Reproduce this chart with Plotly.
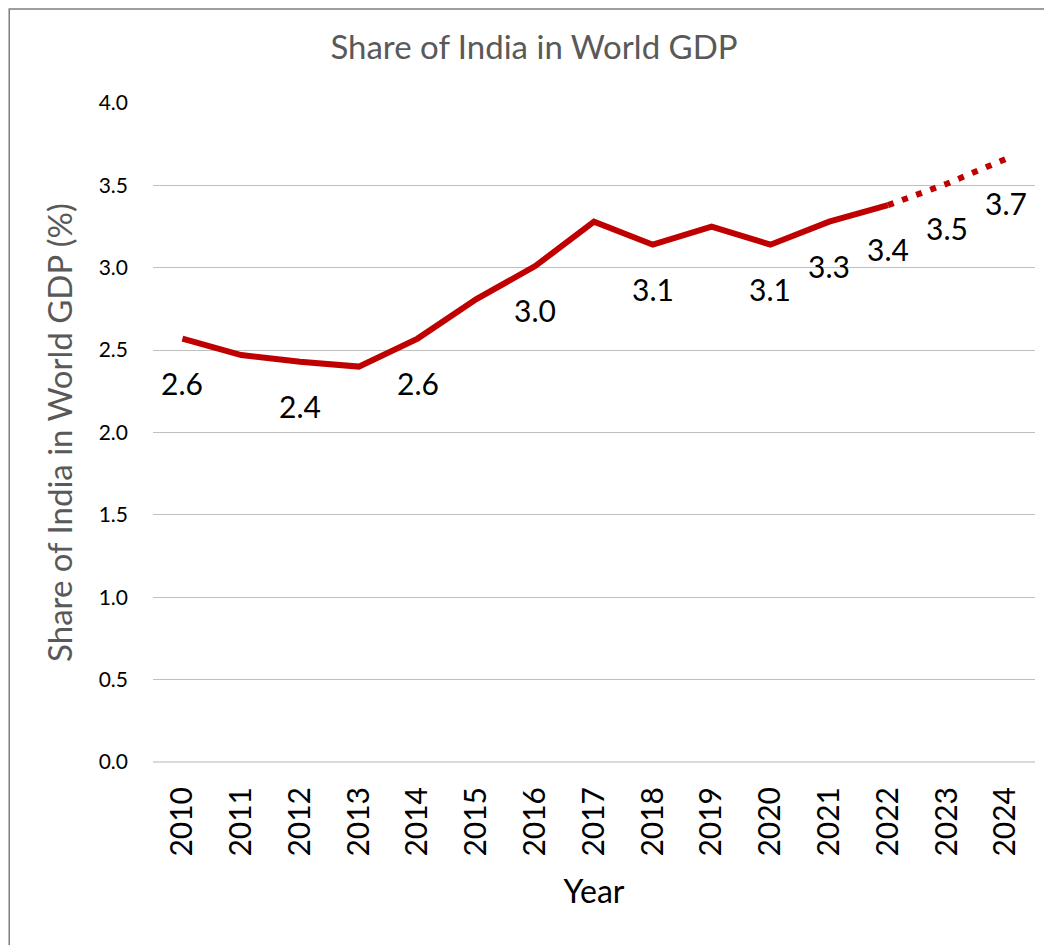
import plotly.graph_objects as go

# data
years = [str(y) for y in range(2010, 2025)]
share = [2.57, 2.47, 2.43, 2.40, 2.57, 2.81, 3.01, 3.28, 3.14, 3.25, 3.14, 3.28, 3.38, 3.51, 3.66]
labels = ["2.6", None, "2.4", None, "2.6", None, "3.0", None, "3.1", None, "3.1", "3.3", "3.4", "3.5", "3.7"]
actual_until = "2022"  # after this year the line is a projection

RED = "#c00000"
GREY = "#595959"
FONT = "Lato, 'Open Sans', sans-serif"

cut = years.index(actual_until) + 1

fig = go.Figure()

# actual values
fig.add_trace(go.Scatter(
    x=years[:cut], y=share[:cut], mode="lines",
    line=dict(color=RED, width=6),
    showlegend=False, hoverinfo="x+y",
))

# projection
fig.add_trace(go.Scatter(
    x=years[cut - 1:], y=share[cut - 1:], mode="lines",
    line=dict(color=RED, width=6, dash="6px,9px"),
    showlegend=False, hoverinfo="x+y",
))

# data labels under the points (category index on the x axis)
for i, (val, lab) in enumerate(zip(share, labels)):
    if lab is None:
        continue
    fig.add_annotation(
        x=i, y=val, text=lab, showarrow=False,
        yshift=-44, font=dict(size=30, color="black", family=FONT),
    )

# chart area border
fig.add_shape(
    type="rect", xref="paper", yref="paper",
    x0=-0.163, x1=1.04, y0=-0.35, y1=1.1426,
    line=dict(color="#7f7f7f", width=1.5), layer="below",
)

fig.update_layout(
    width=1052, height=945,
    plot_bgcolor="white", paper_bgcolor="white",
    margin=dict(l=145, r=25, t=95, b=191),
    title=dict(
        text="Share of India in World GDP",
        x=0.5, xanchor="center", y=0.958, yanchor="middle",
        font=dict(size=33, color=GREY, family=FONT),
    ),
    font=dict(family=FONT, color="black"),
)

fig.update_xaxes(
    type="category",
    range=[-0.5, len(years) - 0.5],
    tickangle=-90,
    tickfont=dict(size=30, color="black"),
    ticklabelstandoff=18,
    showgrid=False, showline=False, ticks="",
    title=dict(text="Year", font=dict(size=32, color="black"), standoff=24),
)

fig.update_yaxes(
    range=[0, 4.0],
    dtick=0.5,
    tickformat=".1f",
    tickfont=dict(size=21, color="black"),
    ticklabelstandoff=24,
    showgrid=True, gridcolor="#bfbfbf", gridwidth=1,
    zeroline=True, zerolinecolor="#d9d9d9", zerolinewidth=1.5,
    showline=False, ticks="",
    title=dict(text="Share of India in World GDP (%)",
               font=dict(size=33, color=GREY), standoff=16),
)

fig.write_html("out.html")
